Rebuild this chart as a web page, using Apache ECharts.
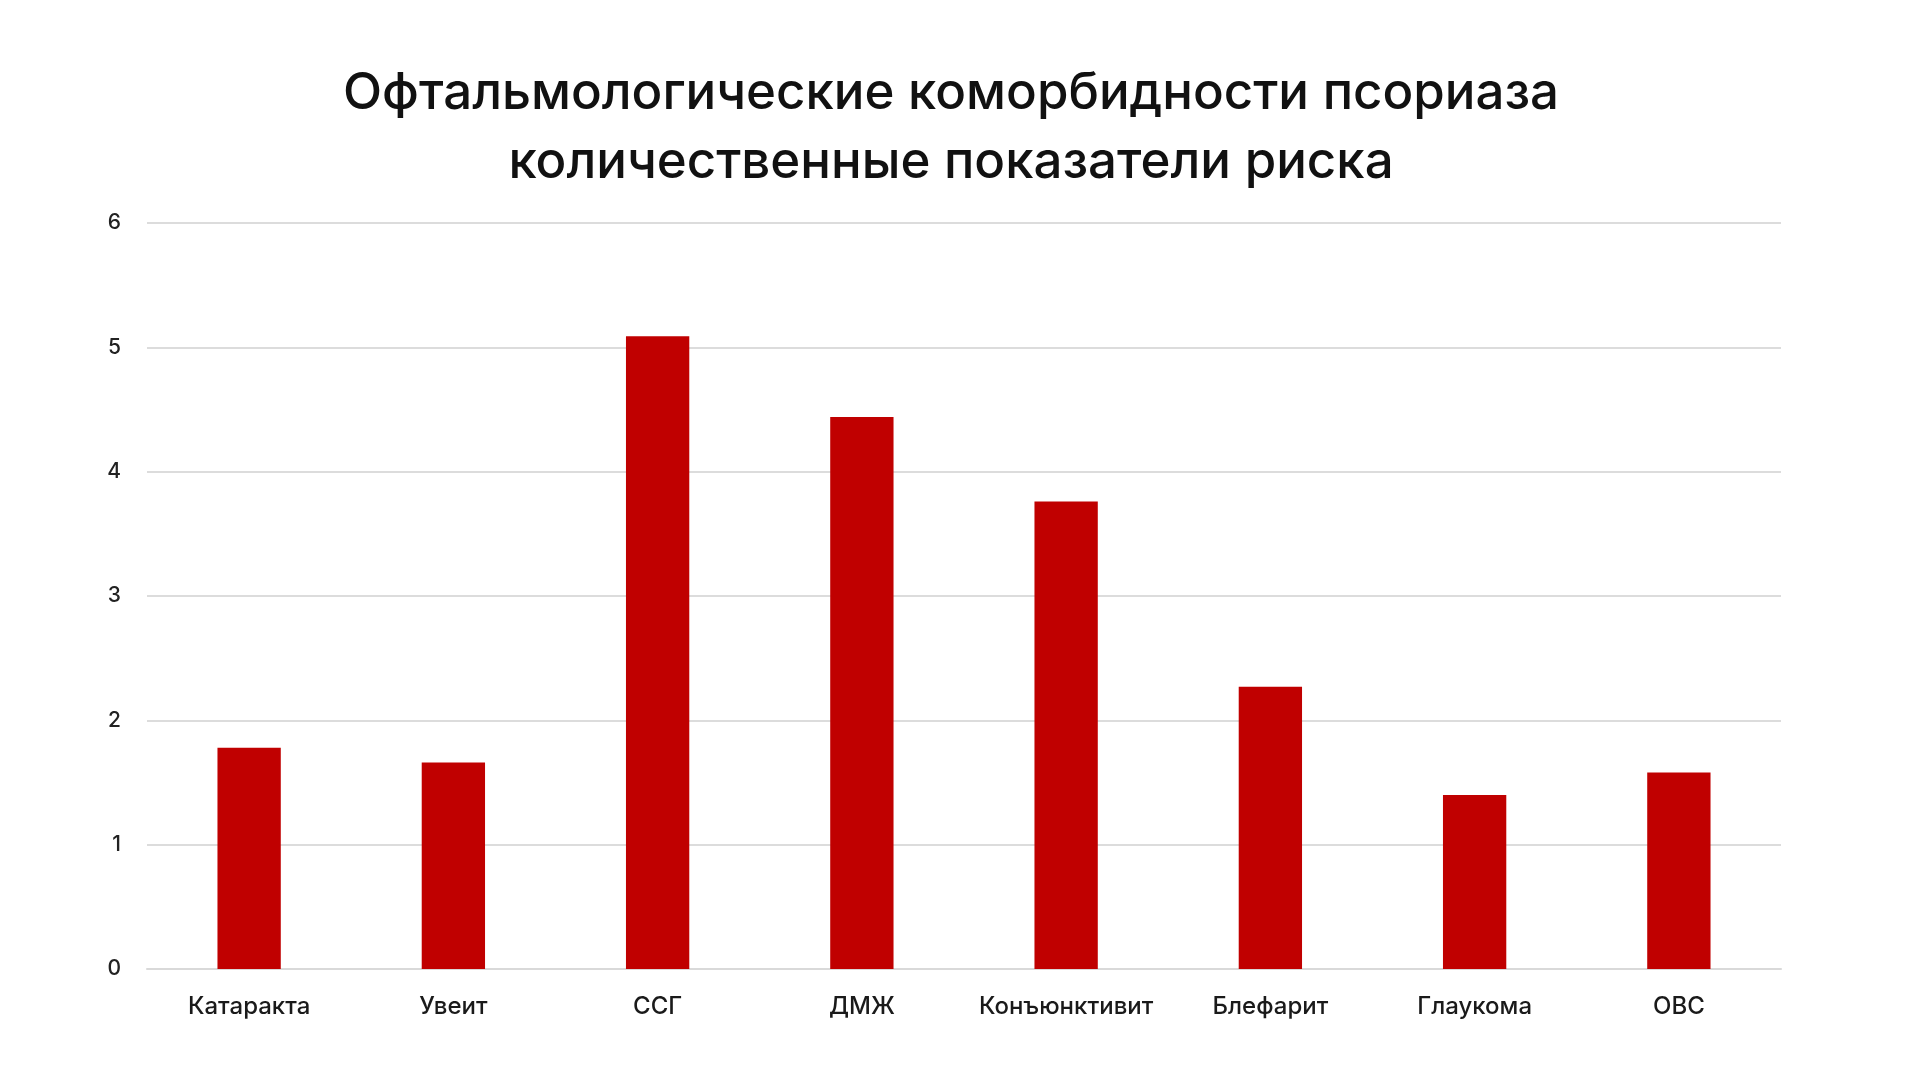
<!DOCTYPE html>
<html>
<head>
<meta charset="utf-8">
<script src="https://cdn.jsdelivr.net/npm/echarts@6/dist/echarts.min.js"></script>
<style>
html,body{margin:0;padding:0;background:#fff;}
#chart{width:1920px;height:1080px;}
</style>
</head>
<body>
<div id="chart"></div>
<script>
const titleText = 'Офтальмологические коморбидности псориаза\nколичественные показатели риска';
const categories = ['Катаракта', 'Увеит', 'ССГ', 'ДМЖ', 'Конъюнктивит', 'Блефарит', 'Глаукома', 'ОВС'];
const riskValues = [1.78, 1.66, 5.09, 4.44, 3.76, 2.27, 1.40, 1.58];
const yTicks = [0, 1, 2, 3, 4, 5, 6];

const chart = echarts.init(document.getElementById('chart'));
chart.setOption({
  backgroundColor: '#ffffff',
  animation: false,
  title: {
    text: titleText,
    left: 946,
    textAlign: 'center',
    top: 54,
    textStyle: {
      fontFamily: 'Inter',
      fontSize: 51,
      fontWeight: 500,
      color: '#111111',
      lineHeight: 69
    }
  },
  grid: { left: 147, right: 139, top: 223, bottom: 111, containLabel: false },
  xAxis: {
    type: 'category',
    data: categories,
    axisLine: { show: true, lineStyle: { color: '#d9d9d9', width: 2 } },
    axisTick: { show: false },
    axisLabel: {
      interval: 0,
      margin: 26,
      fontFamily: 'Inter',
      fontSize: 24,
      fontWeight: 500,
      color: '#1a1a1a'
    }
  },
  yAxis: {
    type: 'value',
    min: yTicks[0],
    max: yTicks[yTicks.length - 1],
    interval: 1,
    axisLine: { show: false },
    axisTick: { show: false },
    splitLine: { lineStyle: { color: '#dcdcdc', width: 2 } },
    axisLabel: {
      margin: 26,
      fontFamily: 'Inter',
      fontSize: 21,
      fontWeight: 500,
      color: '#222222'
    }
  },
  series: [{
    type: 'bar',
    data: riskValues,
    barWidth: '31%',
    itemStyle: { color: '#c00000' }
  }]
});
</script>
</body>
</html>
